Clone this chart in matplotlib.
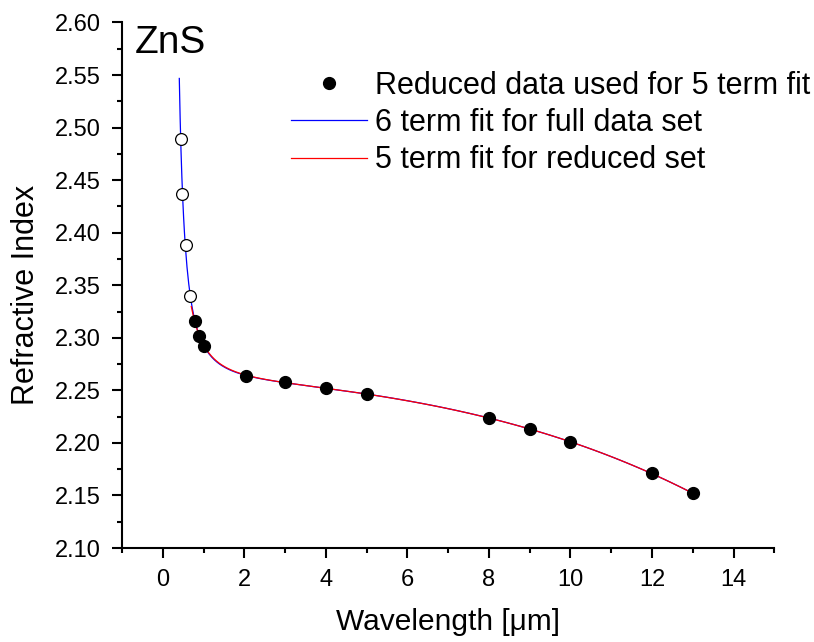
import numpy as np
import matplotlib.pyplot as plt
from matplotlib.lines import Line2D
from matplotlib.ticker import MultipleLocator

plt.rcParams['font.family'] = ['Liberation Sans', 'DejaVu Sans']

# points left out of the reduced set (open circles)
wl_extra = [0.44, 0.48, 0.56, 0.67]
n_extra = [2.489, 2.437, 2.388, 2.340]

# reduced data set (filled circles)
wl_red = [0.78, 0.90, 1.02, 2.05, 3.0, 4.0, 5.0, 8.0, 9.0, 10.0, 12.0, 13.0]
n_red = [2.316, 2.302, 2.292, 2.264, 2.2576, 2.252, 2.2465, 2.224, 2.213, 2.2008, 2.171, 2.152]


def basis(wl, nterms):
    wl = np.asarray(wl, dtype=float)
    cols = [np.ones_like(wl), wl**2, wl**4, wl**-2, wl**-4, wl**-6]
    return np.column_stack(cols[:nterms])


wl_all = np.array(wl_extra + wl_red)
n_all = np.array(n_extra + n_red)
c6 = np.linalg.lstsq(basis(wl_all, 6), n_all, rcond=None)[0]
c5 = np.linalg.lstsq(basis(wl_red, 5), np.array(n_red), rcond=None)[0]

x6 = np.linspace(0.405, 13, 600)
x5 = np.linspace(0.70, 13, 600)

fig = plt.figure(figsize=(8.14, 6.42), dpi=100)
ax = fig.add_axes([0.1499, 0.1464, 0.8013, 0.8186])

ax.plot(x6, basis(x6, 6) @ c6, color='#0000ff', lw=0.9, zorder=2)
ax.plot(x5, basis(x5, 5) @ c5, color='#ff0000', lw=0.9, zorder=3)
ax.plot(wl_extra, n_extra, 'o', ms=8.5, mfc='white', mec='black', mew=0.9, zorder=4)
ax.plot(wl_red, n_red, 'o', ms=8.5, mfc='black', mec='black', zorder=4)

ax.set_xlim(-1, 15)
ax.set_ylim(2.10, 2.60)
ax.xaxis.set_major_locator(MultipleLocator(2))
ax.xaxis.set_minor_locator(MultipleLocator(1))
ax.yaxis.set_major_locator(MultipleLocator(0.05))
ax.yaxis.set_minor_locator(MultipleLocator(0.025))
ax.yaxis.set_major_formatter(plt.FormatStrFormatter('%.2f'))

for s in ['top', 'right']:
    ax.spines[s].set_visible(False)
for s in ['left', 'bottom']:
    ax.spines[s].set_linewidth(1.5)
ax.tick_params(which='major', direction='out', length=7, width=1.5, labelsize=17, pad=8)
ax.tick_params(which='minor', direction='out', length=3.6, width=1.5)

ax.set_xlabel('Wavelength [\u03bcm]', fontsize=21.5, labelpad=12)
ax.set_ylabel('Refractive Index', fontsize=22)
ax.yaxis.set_label_coords(-0.124, 0.481)

ax.text(0.02, 0.995, 'ZnS', transform=ax.transAxes, fontsize=28, va='top', ha='left')

handles = [
    Line2D([], [], ls='none', marker='o', ms=8.5, color='black'),
    Line2D([], [], color='#0000ff', lw=0.9),
    Line2D([], [], color='#ff0000', lw=0.9),
]
labels = ['Reduced data used for 5 term fit', '6 term fit for full data set',
          '5 term fit for reduced set']
ax.legend(handles, labels, loc='upper left', bbox_to_anchor=(0.259, 0.908),
          frameon=False, fontsize=22, handlelength=2.48, handletextpad=0.26,
          labelspacing=0.24, borderpad=0, borderaxespad=0, numpoints=1)

fig.savefig('out.png', dpi=100)
